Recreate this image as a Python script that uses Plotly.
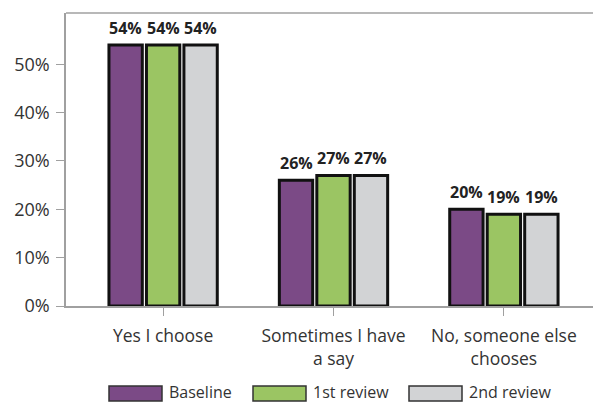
import plotly.graph_objects as go

categories = ["Yes I choose", "Sometimes I have<br>a say", "No, someone else<br>chooses"]
series_names = ["Baseline", "1st review", "2nd review"]
baseline = [54, 26, 20]
review1 = [54, 27, 19]
review2 = [54, 27, 19]
colors = ["#7B4A86", "#9BC563", "#D2D3D5"]
y_ticks = [0, 10, 20, 30, 40, 50]
y_tick_labels = ["0%", "10%", "20%", "30%", "40%", "50%"]

FONT = "Open Sans"
OFF = 8  # page body margin
W, H = 601 - OFF, 403 - OFF
ML, MR, MT, MB = 66 - OFF, 0, 13 - OFF, 97
PW, PH = W - ML - MR, H - MT - MB
X_RANGE = [-0.57, 2.57]
BARGAP = 0.34
PX_PER_UNIT = PW / (X_RANGE[1] - X_RANGE[0])
SLOT_PX = (1 - BARGAP) / 3 * PX_PER_UNIT

fig = go.Figure()
all_vals = [baseline, review1, review2]
annotations = []
for j, (name, vals, col) in enumerate(zip(series_names, all_vals, colors)):
    fig.add_trace(go.Bar(
        x=list(range(len(categories))), y=vals, name=name,
        marker=dict(color=col, line=dict(color="#111111", width=3)),
        cliponaxis=False, showlegend=False,
    ))
    for i, v in enumerate(vals):
        annotations.append(dict(x=i, y=v, xref="x", yref="y", text=f"{v}%",
                                showarrow=False, xanchor="center", yanchor="bottom",
                                xshift=(j - 1) * SLOT_PX, yshift=4,
                                font=dict(family=FONT, size=16, color="#222222", weight="bold")))

# custom legend (wide swatches); positions given in page pixels
def px2x(px):
    return (px - OFF - ML) / PW

def py2y(py):
    return (H - MB - (py - OFF)) / PH

shapes = []
legend_x = [109, 253, 409]
for lx, name, col in zip(legend_x, series_names, colors):
    shapes.append(dict(type="rect", xref="paper", yref="paper",
                       x0=px2x(lx), x1=px2x(lx + 53), y0=py2y(401), y1=py2y(386),
                       fillcolor=col, line=dict(color="#333333", width=1.5)))
    annotations.append(dict(x=px2x(lx + 59), y=py2y(392), xref="paper", yref="paper",
                            text=name, showarrow=False, xanchor="left", yanchor="middle",
                            borderpad=0,
                            font=dict(family=FONT, size=16, color="#333333")))

fig.update_layout(
    width=W, height=H,
    margin=dict(l=ML, r=MR, t=MT, b=MB),
    plot_bgcolor="white", paper_bgcolor="white",
    barmode="group", bargap=BARGAP, bargroupgap=0.11,
    font=dict(family=FONT, size=17, color="#333333"),
    shapes=shapes, annotations=annotations,
    xaxis=dict(range=X_RANGE, tickvals=list(range(len(categories))), ticktext=categories,
               showline=True, linecolor="#A0A0A0", linewidth=1.5, mirror=False,
               ticks="outside", ticklen=8, tickcolor="#A0A0A0", showgrid=False,
               ticklabelstandoff=5,
               tickfont=dict(family=FONT, size=17.5, color="#333333")),
    yaxis=dict(range=[0, 60.6], tickvals=y_ticks, ticktext=y_tick_labels,
               showline=True, linecolor="#A0A0A0", linewidth=1.5,
               ticks="outside", ticklen=8, tickcolor="#A0A0A0", showgrid=False, zeroline=False,
               ticklabelstandoff=3,
               tickfont=dict(family=FONT, size=18, color="#333333")),
)
fig.add_shape(type="line", xref="paper", yref="paper", x0=0, x1=1, y0=1, y1=1,
              line=dict(color="#A0A0A0", width=1.5))

fig.write_html("out.html")
